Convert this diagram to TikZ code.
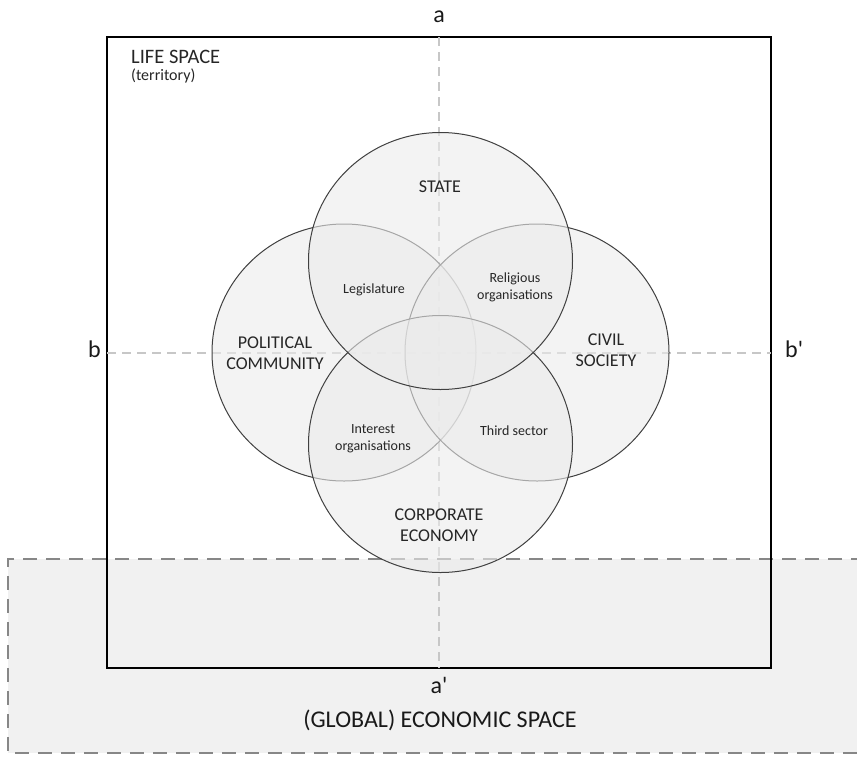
\documentclass[tikz,border=0pt]{standalone}
\usepackage{fontspec}
\setmainfont{Carlito}
\usetikzlibrary{positioning,calc,shapes.geometric}
\tikzset{
  sphere/.style ={ellipse, draw=black!75, line width=1pt, fill=black!8, fill opacity=0.6, text opacity=1,
                  minimum width=264pt, minimum height=257pt, inner sep=0pt},
  big/.style    ={align=center, font=\fontsize{18}{20.5}\selectfont, text=black!85, inner sep=0pt},
  small/.style  ={align=center, font=\fontsize{14}{16.7}\selectfont, text=black!85, inner sep=0pt},
  axlbl/.style  ={font=\fontsize{24}{28}\selectfont, text=black!90, inner sep=0pt},
  axis/.style   ={draw=black!22, line width=2pt, dash pattern=on 9pt off 6pt},
  ecoline/.style={draw=black!47, line width=2.8pt, dash pattern=on 14pt off 9pt},
  lifebox/.style={draw=black, line width=2.2pt, minimum width=664pt, minimum height=631pt, inner sep=0pt, outer sep=0pt},
}

\begin{document}
\begin{tikzpicture}[x=1pt, y=-1pt]
  \useasboundingbox (0,0) rectangle (857,756);

  % ---- economic space, open to the right ----
  \node[fill=black!5.5, minimum width=880pt, minimum height=194pt, inner sep=0pt, outer sep=0pt,
        anchor=north west] (eco) at (8,559) {};
  \draw[ecoline] (eco.north east) -- (eco.north west) -- (eco.south west) -- (eco.south east);
  \node[axlbl, anchor=base] (ecolbl) at (440,727) {(GLOBAL) ECONOMIC SPACE};

  % ---- life space frame and the two axes ----
  \node[lifebox] (life) at (439,352.5) {};
  \node[anchor=base west, inner sep=0pt, text=black!85, font=\fontsize{20.5}{22}\selectfont] (lifelbl) at (131,63.5) {LIFE SPACE};
  \node[anchor=base west, inner sep=0pt, text=black!85, font=\fontsize{16}{18}\selectfont] (terr) at (131,80) {(territory)};
  \draw[axis] (life.north) -- (life.south);
  \draw[axis] (life.west) -- (life.east);
  \node[axlbl, above=14pt of life.north] (a) {a};
  \node[axlbl, below=9pt of life.south] (ap) {a\textquotesingle};
  \node[axlbl, left=6pt of life.west, yshift=3pt] (b) {b};
  \node[axlbl, right=14pt of life.east, yshift=3pt] (bp) {b\textquotesingle};

  % ---- the four spheres ----
  \node[sphere] (pol) at (344,352.5) {};
  \node[sphere] (civ) at (537,352.5) {};
  \node[sphere] (cor) at (440.5,444) {};
  \node[sphere] (st)  at (440.5,261) {};

  \node[big] (stlbl)  at (440,187) {STATE};
  \node[big] (pollbl) at (275,353) {POLITICAL\\COMMUNITY};
  \node[big] (civlbl) at (606,350) {CIVIL\\SOCIETY};
  \node[big] (corlbl) at (439,525) {CORPORATE\\ECONOMY};

  \node[small] (leg) at (374,290) {Legislature};
  \node[small] (rel) at (515,287) {Religious\\organisations};
  \node[small] (int) at (373,439) {Interest\\organisations};
  \node[small] (thi) at (514,431) {Third sector};
\end{tikzpicture}
\end{document}
